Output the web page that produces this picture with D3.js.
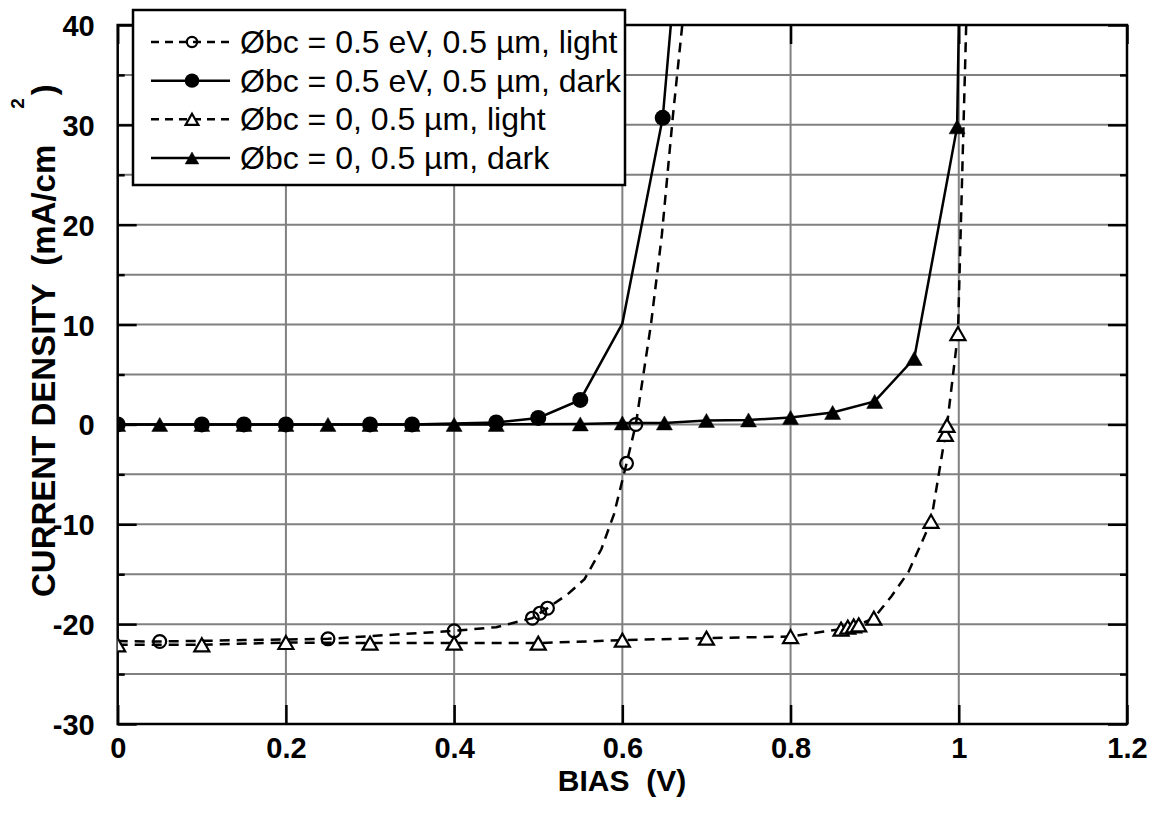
<!DOCTYPE html>
<html>
<head>
<meta charset="utf-8">
<script src="https://cdn.jsdelivr.net/npm/d3@7"></script>
<style>
  html, body { margin: 0; padding: 0; background: #fff; }
  svg { display: block; }
  text { font-family: "Liberation Sans", Arial, Helvetica, sans-serif; }
</style>
</head>
<body>
<svg id="chart" width="1152" height="818"></svg>
<script>
// ---- data ----
// Øbc = 0.5 eV, 0.5 µm, light (open circles, dashed)
const circLightV = [0, 0.05, 0.15, 0.25, 0.3, 0.4, 0.45, 0.493, 0.502, 0.511, 0.535, 0.555, 0.575, 0.59, 0.605, 0.616, 0.634, 0.647, 0.66, 0.671, 0.683];
const circLightJ = [-21.7, -21.74, -21.6, -21.47, -21.2, -20.67, -20.3, -19.4, -18.9, -18.4, -17.0, -15.5, -12.5, -9.0, -3.9, 0.0, 10.0, 19.0, 30.8, 39.8, 50];
const circLightMark = [0, 1, 0, 1, 0, 1, 0, 1, 1, 1, 0, 0, 0, 0, 1, 1, 0, 0, 0, 0, 0];

// Øbc = 0.5 eV, 0.5 µm, dark (filled circles, solid)
const circDarkV = [0, 0.1, 0.15, 0.2, 0.3, 0.35, 0.45, 0.5, 0.55, 0.6, 0.648, 0.668];
const circDarkJ = [0, 0, 0, 0, 0, 0, 0.2, 0.65, 2.45, 10.1, 30.7, 50];
const circDarkMark = [1, 1, 1, 1, 1, 1, 1, 1, 1, 0, 1, 0];

// Øbc = 0, 0.5 µm, light (open triangles, dashed)
const triLightV = [0, 0.1, 0.2, 0.3, 0.4, 0.5, 0.6, 0.7, 0.8, 0.86, 0.868, 0.875, 0.881, 0.899, 0.92, 0.94, 0.955, 0.967, 0.984, 0.986, 0.999, 1.012];
const triLightJ = [-22.07, -22.07, -21.84, -21.9, -21.9, -21.9, -21.6, -21.4, -21.24, -20.5, -20.3, -20.17, -20.07, -19.4, -17.2, -14.8, -12.0, -9.7, -1.0, -0.1, 9.1, 50];
const triLightMark = [1, 1, 1, 1, 1, 1, 1, 1, 1, 1, 1, 1, 1, 1, 0, 0, 0, 1, 1, 1, 1, 0];

// Øbc = 0, 0.5 µm, dark (filled triangles, solid)
const triDarkV = [0, 0.05, 0.1, 0.15, 0.2, 0.25, 0.3, 0.35, 0.4, 0.45, 0.55, 0.6, 0.65, 0.7, 0.75, 0.8, 0.85, 0.9, 0.947, 0.998, 1.002];
const triDarkJ = [0, 0, 0, 0, 0, 0, 0, 0, 0, 0, 0.05, 0.15, 0.15, 0.4, 0.45, 0.7, 1.2, 2.3, 6.6, 29.8, 50];
const triDarkMark = [1, 1, 1, 1, 1, 1, 1, 1, 1, 1, 1, 1, 1, 1, 1, 1, 1, 1, 1, 1, 0];

const legendLabels = [
  "Øbc = 0.5 eV, 0.5 µm, light",
  "Øbc = 0.5 eV, 0.5 µm, dark",
  "Øbc = 0, 0.5 µm, light",
  "Øbc = 0, 0.5 µm, dark"
];

const xTicks = [0, 0.2, 0.4, 0.6, 0.8, 1.0, 1.2];
const xTickLabels = ["0", "0.2", "0.4", "0.6", "0.8", "1", "1.2"];
const yTicks = [-30, -20, -10, 0, 10, 20, 30, 40];
const yTickLabels = ["-30", "-20", "-10", "0", "10", "20", "30", "40"];
const yMinorTicks = [-25, -15, -5, 5, 15, 25, 35];
const xGrid = [0.2, 0.4, 0.6, 0.8, 1.0];
const yGrid = [-25, -20, -15, -10, -5, 0, 5, 10, 15, 20, 25, 30, 35];

// ---- layout ----
const L = 117.7, R = 1127, T = 25, B = 724;
const svg = d3.select("#chart");
const x = d3.scaleLinear().domain([0, 1.2]).range([L, R]);
const y = d3.scaleLinear().domain([-30, 40]).range([B, T]);

const tickFont = 29, legendFont = 32;

// grid
const grid = svg.append("g").attr("stroke", "#808080").attr("stroke-width", 2);
grid.selectAll("line.v").data(xGrid).join("line")
  .attr("x1", d => x(d)).attr("x2", d => x(d)).attr("y1", T).attr("y2", B);
grid.selectAll("line.h").data(yGrid).join("line")
  .attr("y1", d => y(d)).attr("y2", d => y(d)).attr("x1", L).attr("x2", R);

// axes (ticks point inward)
function styleAxis(g) {
  g.select(".domain").remove();
  g.selectAll(".tick line").attr("stroke", "#000").attr("stroke-width", 2.5);
}
svg.append("g").attr("transform", `translate(0,${B})`)
  .call(d3.axisBottom(x).tickValues(xTicks).tickSizeInner(-19).tickSizeOuter(0)
    .tickFormat((d, i) => xTickLabels[i]))
  .call(styleAxis)
  .call(g => g.selectAll(".tick text")
    .attr("y", 34).attr("dy", null)
    .attr("font-size", tickFont).attr("font-weight", "bold").attr("fill", "#000")
    .attr("font-family", "Liberation Sans, Arial, sans-serif"));
svg.append("g").attr("transform", `translate(0,${T})`)
  .call(d3.axisTop(x).tickValues(xTicks).tickSizeInner(-19).tickSizeOuter(0).tickFormat(""))
  .call(styleAxis);
svg.append("g").attr("transform", `translate(${L},0)`)
  .call(d3.axisLeft(y).tickValues(yTicks).tickSizeInner(-19).tickSizeOuter(0)
    .tickFormat((d, i) => yTickLabels[i]))
  .call(styleAxis)
  .call(g => g.selectAll(".tick text")
    .attr("x", -23).attr("dy", "0.36em")
    .attr("font-size", tickFont).attr("font-weight", "bold").attr("fill", "#000")
    .attr("font-family", "Liberation Sans, Arial, sans-serif"));
svg.append("g").attr("transform", `translate(${L},0)`)
  .call(d3.axisLeft(y).tickValues(yMinorTicks).tickSizeInner(-7).tickSizeOuter(0).tickFormat(""))
  .call(styleAxis);
svg.append("g").attr("transform", `translate(${R},0)`)
  .call(d3.axisRight(y).tickValues(yTicks).tickSizeInner(-19).tickSizeOuter(0).tickFormat(""))
  .call(styleAxis);
svg.append("g").attr("transform", `translate(${R},0)`)
  .call(d3.axisRight(y).tickValues(yMinorTicks).tickSizeInner(-7).tickSizeOuter(0).tickFormat(""))
  .call(styleAxis);

// frame
svg.append("rect").attr("x", L).attr("y", T).attr("width", R - L).attr("height", B - T)
  .attr("fill", "none").attr("stroke", "#000").attr("stroke-width", 2.5);

// clip for curves
svg.append("clipPath").attr("id", "plotClip")
  .append("rect").attr("x", L).attr("y", T).attr("width", R - L).attr("height", B - T);

const series = [
  { v: circLightV, j: circLightJ, m: circLightMark, dashed: true, shape: "circle", filled: false },
  { v: circDarkV, j: circDarkJ, m: circDarkMark, dashed: false, shape: "circle", filled: true },
  { v: triLightV, j: triLightJ, m: triLightMark, dashed: true, shape: "triangle", filled: false },
  { v: triDarkV, j: triDarkJ, m: triDarkMark, dashed: false, shape: "triangle", filled: true }
];

function triPath(w, h) {
  return `M0,${-h / 2}L${w / 2},${h / 2}L${-w / 2},${h / 2}Z`;
}
function drawMarker(g, s, cx, cy, scale) {
  const k = scale || 1;
  if (s.shape === "circle") {
    g.append("circle").attr("cx", cx).attr("cy", cy)
      .attr("r", (s.filled ? 8 : 6.4) * k)
      .attr("fill", s.filled ? "#000" : "none")
      .attr("stroke", "#000").attr("stroke-width", s.filled ? 0 : 2.2);
  } else {
    const w = s.filled ? 16 : 15, h = s.filled ? 14 : 13;
    g.append("path").attr("d", triPath(w * k, h * k))
      .attr("transform", `translate(${cx},${cy})`)
      .attr("fill", s.filled ? "#000" : "#fff")
      .attr("stroke", "#000").attr("stroke-width", s.filled ? 0.5 : 2.2)
      .attr("stroke-linejoin", "miter");
  }
}

const plot = svg.append("g").attr("clip-path", "url(#plotClip)");
const line = d3.line().x(d => x(d[0])).y(d => y(d[1]));

series.forEach(s => {
  const pts = s.v.map((v, i) => [v, s.j[i], s.m[i]]);
  plot.append("path").datum(pts).attr("d", line)
    .attr("fill", "none").attr("stroke", "#000").attr("stroke-width", 2.5)
    .attr("stroke-dasharray", s.dashed ? "10,7" : null);
});
series.forEach(s => {
  const g = plot.append("g");
  s.v.forEach((v, i) => {
    if (s.m[i]) drawMarker(g, s, x(v), y(s.j[i]));
  });
});

// legend
const lg = svg.append("g");
lg.append("rect").attr("x", 133).attr("y", 10).attr("width", 492).attr("height", 175)
  .attr("fill", "#fff").attr("stroke", "#000").attr("stroke-width", 2.5);
const rowY = d3.scaleLinear().domain([0, 3]).range([42, 158]);
series.forEach((s, i) => {
  const cy = rowY(i);
  lg.append("line").attr("x1", 151).attr("x2", 230).attr("y1", cy).attr("y2", cy)
    .attr("stroke", "#000").attr("stroke-width", 2.5)
    .attr("stroke-dasharray", s.dashed ? "8,6" : null);
  drawMarker(lg, s, 192, cy, s.shape === "circle" ? (s.filled ? 0.9 : 0.8) : 0.85);
  lg.append("text").attr("x", 240).attr("y", cy + 11)
    .attr("font-size", legendFont).attr("fill", "#000")
    .text(legendLabels[i]);
});

// axis titles
svg.append("text").attr("x", 622).attr("y", 791)
  .attr("text-anchor", "middle").attr("font-size", 30).attr("font-weight", "bold")
  .attr("xml:space", "preserve")
  .text("BIAS  (V)");

const yt = svg.append("text")
  .attr("transform", "rotate(-90)")
  .attr("x", -597).attr("y", 55)
  .attr("font-size", 33).attr("font-weight", "bold")
  .attr("xml:space", "preserve");
yt.append("tspan").text("CURRENT DENSITY  (mA/cm");
yt.append("tspan").attr("dx", 36).attr("dy", -31).attr("font-size", 19).text("2");
yt.append("tspan").attr("dx", 3).attr("dy", 31).text(")");
</script>
</body>
</html>
